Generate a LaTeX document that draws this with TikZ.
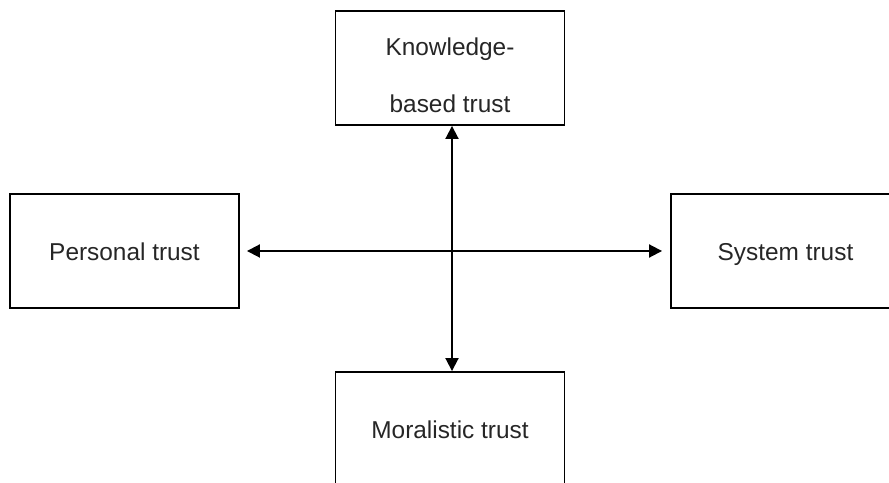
\documentclass[tikz,border=0pt]{standalone}
\usepackage{fontspec}
\setmainfont{Liberation Sans}
\usetikzlibrary{
    arrows.meta,
    positioning
}
\tikzset{
    trustbox/.style={shape=rectangle, draw, line width=1.9pt,
        minimum width=229pt, minimum height=114pt,
        text height=19pt, text depth=0pt,
        font=\fontsize{24.4}{29}\selectfont, text=black!85},
    link/.style={line width=1.9pt, {Triangle[length=13pt,width=13pt]}-{Triangle[length=13pt,width=13pt]}}
}

\begin{document}
\begin{tikzpicture}[x=1pt, y=1pt]
    \useasboundingbox (0,0) rectangle (889,482);
    \clip (0,0) rectangle (889,482);
    \path ( 450,414) node [trustbox, align=center] (know)  {\raisebox{-7.25pt}[0pt][0pt]{\begin{tabular}{@{}c@{}}Knowledge-\\[28pt]based trust\end{tabular}}}
          ( 124.5,231) node [trustbox] (pers) {Personal trust}
          ( 785.5,231) node [trustbox] (sys)  {System trust}
          ( 450,53)  node [trustbox] (moral) {Moralistic trust};
    % the two crossing arrows
    \draw [link] ([xshift=2pt]know.south) -- ([xshift=2pt]moral.north);
    \draw [link, shorten <=7pt, shorten >=8pt] (pers.east) -- (sys.west);
  \end{tikzpicture}
\end{document}
